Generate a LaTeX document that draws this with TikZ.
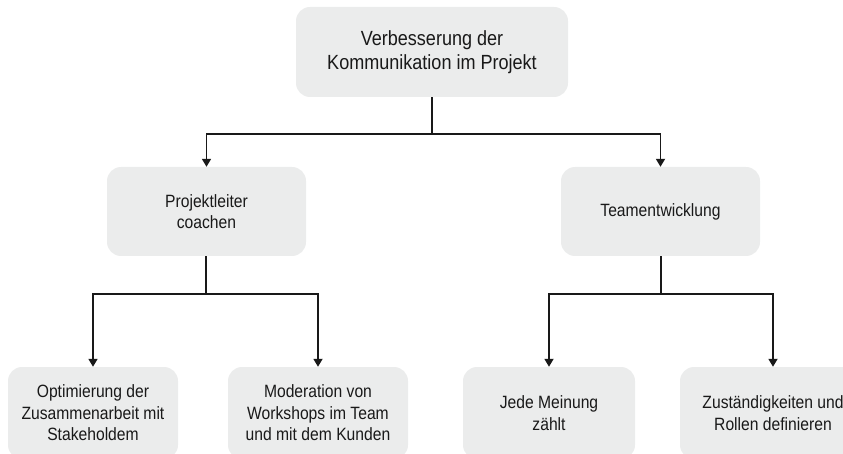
\documentclass[tikz,border=0pt]{standalone}
\usepackage{fontspec}
\setmainfont{Liberation Sans}[FakeStretch=0.88]
\usetikzlibrary{arrows.meta}
\definecolor{boxgray}{HTML}{EBECEC}
\tikzset{
  box/.style={fill=boxgray, rounded corners=14pt, inner sep=0pt, align=center, text=black!90},
  bigtext/.style={font=\fontsize{20.5}{24}\selectfont},
  smalltext/.style={font=\fontsize{17.8}{21.5}\selectfont},
  conn/.style={line width=1.7pt, draw=black!90},
  arr/.style={conn, -{Triangle[length=8pt,width=9pt]}, shorten >=0pt}
}
\begin{document}
\begin{tikzpicture}[x=1pt,y=-1pt]
\useasboundingbox (0,0) rectangle (843,454);
\clip (0,0) rectangle (843,454);
% boxes
\node[box,bigtext,minimum width=272pt,minimum height=90pt] (top) at (432,52) {Verbesserung der\\Kommunikation im Projekt};
\node[box,smalltext,minimum width=199pt,minimum height=89pt] (mL) at (206.5,211.5) {Projektleiter\\coachen};
\node[box,smalltext,minimum width=199pt,minimum height=89pt] (mR) at (660.5,211.5) {Teamentwicklung};
\node[box,smalltext,minimum width=170pt,minimum height=92pt] (b1) at (93,413) {Optimierung der\\Zusammenarbeit mit\\Stakeholdem};
\node[box,smalltext,minimum width=180pt,minimum height=92pt] (b2) at (318,413) {Moderation von\\Workshops im Team\\und mit dem Kunden};
\node[box,smalltext,minimum width=172pt,minimum height=92pt] (b3) at (549,413) {Jede Meinung\\zählt};
\node[box,smalltext,minimum width=186pt,minimum height=92pt] (b4) at (773,413) {Zuständigkeiten und\\Rollen definieren};
% junctions
\coordinate (j0) at (432,134);
\coordinate (jL) at (206,294);
\coordinate (jR) at (661,294);
% connectors
\draw[conn] (top.south) -- (j0);
\draw[arr] (j0) -| (mL.north);
\draw[arr] (j0) -| (mR.north);
\draw[conn] (mL.south -| jL) -- (jL);
\draw[arr] (jL) -| (b1.north);
\draw[arr] (jL) -| (b2.north);
\draw[conn] (mR.south -| jR) -- (jR);
\draw[arr] (jR) -| (b3.north);
\draw[arr] (jR) -| (b4.north);
\end{tikzpicture}
\end{document}
